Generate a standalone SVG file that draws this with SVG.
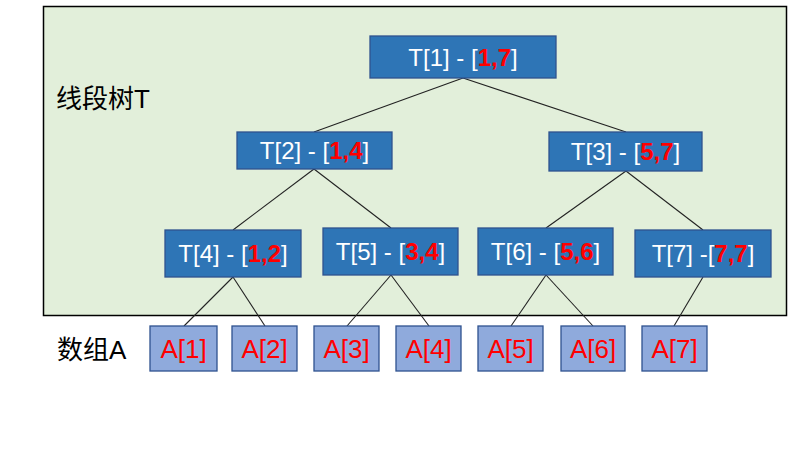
<svg xmlns="http://www.w3.org/2000/svg" width="800" height="450" viewBox="0 0 800 450">
<style>
.tn{fill:#2E75B6;stroke:#2F528F;stroke-width:1.3}
.an{fill:#8FAADC;stroke:#2F528F;stroke-width:1.3}
.tt{font-family:"Liberation Sans",Arial,sans-serif;font-size:24px;fill:#FFFFFF;text-anchor:middle}
.r{fill:#FF0000;font-weight:bold}
.at{font-family:"Liberation Sans",Arial,sans-serif;font-size:26px;fill:#FF0000;text-anchor:middle}
.lb{font-family:"Liberation Sans","Noto Sans CJK SC",sans-serif;font-size:26px;fill:#000000}
.c line{stroke:#222222;stroke-width:1.1}
</style>
<rect width="800" height="450" fill="#FFFFFF"/>
<g id="panel">
<rect x="43.5" y="6.5" width="743" height="309" fill="#E2EFDA" stroke="#000000" stroke-width="1.5"/>
<text class="lb" x="56" y="108">线段树T</text>
</g>
<text class="lb" x="57" y="359">数组A</text>
<g id="connectors" class="c">
<line x1="463" y1="78" x2="314" y2="132"/>
<line x1="463" y1="78" x2="626" y2="132"/>
<line x1="314" y1="169" x2="233" y2="230"/>
<line x1="314" y1="169" x2="391" y2="228"/>
<line x1="626" y1="171" x2="546" y2="228"/>
<line x1="626" y1="171" x2="703" y2="230"/>
<line x1="233" y1="277" x2="184" y2="326"/>
<line x1="233" y1="277" x2="265" y2="326"/>
<line x1="391" y1="275" x2="347" y2="326"/>
<line x1="391" y1="275" x2="429" y2="326"/>
<line x1="546" y1="275" x2="511" y2="326"/>
<line x1="546" y1="275" x2="593" y2="326"/>
<line x1="703" y1="277" x2="674" y2="326"/>
</g>
<g id="T1"><rect class="tn" x="370" y="36" width="186" height="42"/><text class="tt" x="463" y="66">T[1] - [<tspan class="r">1,7</tspan>]</text></g>
<g id="T2"><rect class="tn" x="237" y="132" width="155" height="37"/><text class="tt" x="314.5" y="159">T[2] - [<tspan class="r">1,4</tspan>]</text></g>
<g id="T3"><rect class="tn" x="549" y="132" width="153" height="39"/><text class="tt" x="625.5" y="160">T[3] - [<tspan class="r">5,7</tspan>]</text></g>
<g id="T4"><rect class="tn" x="165" y="230" width="136" height="47"/><text class="tt" x="233" y="262">T[4] - [<tspan class="r">1,2</tspan>]</text></g>
<g id="T5"><rect class="tn" x="323" y="228" width="135" height="47"/><text class="tt" x="390.5" y="260">T[5] - [<tspan class="r">3,4</tspan>]</text></g>
<g id="T6"><rect class="tn" x="478" y="228" width="135" height="47"/><text class="tt" x="545.5" y="260">T[6] - [<tspan class="r">5,6</tspan>]</text></g>
<g id="T7"><rect class="tn" x="635" y="230" width="136" height="47"/><text class="tt" x="703" y="262">T[7] -[<tspan class="r">7,7</tspan>]</text></g>
<g id="A1"><rect class="an" x="150" y="326" width="67" height="45"/><text class="at" x="183.5" y="358">A[1]</text></g>
<g id="A2"><rect class="an" x="232" y="326" width="65" height="45"/><text class="at" x="264.5" y="358">A[2]</text></g>
<g id="A3"><rect class="an" x="314" y="326" width="65" height="45"/><text class="at" x="346.5" y="358">A[3]</text></g>
<g id="A4"><rect class="an" x="396" y="326" width="65" height="45"/><text class="at" x="428.5" y="358">A[4]</text></g>
<g id="A5"><rect class="an" x="478" y="326" width="65" height="45"/><text class="at" x="510.5" y="358">A[5]</text></g>
<g id="A6"><rect class="an" x="561" y="326" width="64" height="45"/><text class="at" x="593" y="358">A[6]</text></g>
<g id="A7"><rect class="an" x="642" y="326" width="65" height="45"/><text class="at" x="674.5" y="358">A[7]</text></g>
</svg>
